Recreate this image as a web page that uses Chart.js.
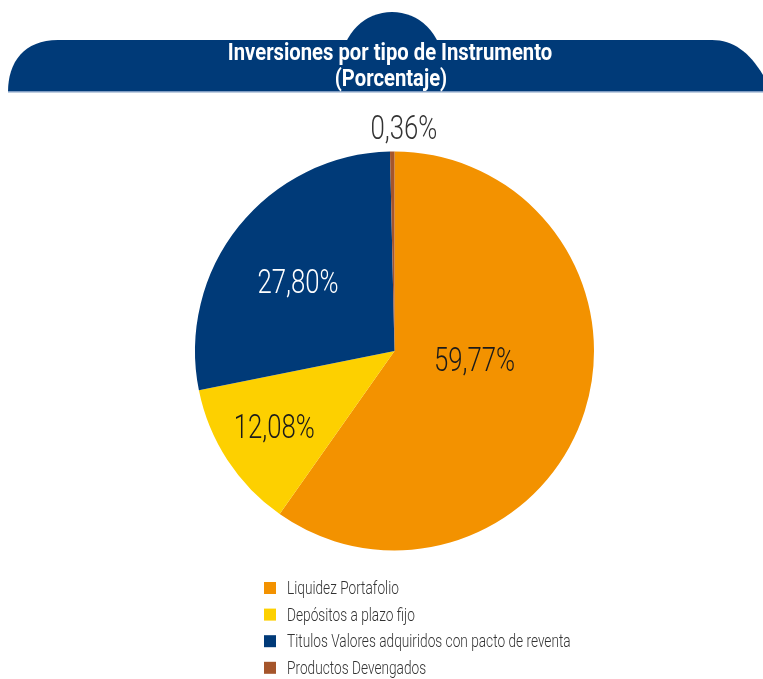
<!DOCTYPE html>
<html>
<head>
<meta charset="utf-8">
<script src="https://cdn.jsdelivr.net/npm/chart.js@4.4.1/dist/chart.umd.min.js"></script>
<style>
  html, body { margin: 0; padding: 0; background: #fff; overflow: hidden; }
  #wrap { position: relative; width: 763px; height: 679px; }
</style>
</head>
<body>
<div id="wrap"><canvas id="pieChart" width="763" height="679"></canvas></div>
<script>
const categories = [
    "Liquidez Portafolio",
    "Depósitos a plazo fijo",
    "Titulos Valores adquiridos con pacto de reventa",
    "Productos Devengados"
];
const shares = [59.77, 12.08, 27.80, 0.36];
const sliceColors = ["#F39200", "#FDD000", "#003A78", "#A5552B"];
const titleLines = ["Inversiones por tipo de Instrumento", "(Porcentaje)"];

const NAVY = "#003A78";

/* =========================
   TOOL: CONDENSED TEXT
========================= */
function drawCondensed(ctx, text, x, y, font, color, sx, align) {
    ctx.save();
    ctx.font = font;
    ctx.fillStyle = color;
    ctx.textBaseline = "alphabetic";
    ctx.textAlign = "left";
    const w = ctx.measureText(text).width * sx;
    let left = x;
    if (align === "center") left = x - w / 2;
    ctx.translate(left, y);
    ctx.scale(sx, 1);
    ctx.fillText(text, 0, 0);
    ctx.restore();
}

function pct(v) {
    return v.toFixed(2).replace(".", ",") + "%";
}

/* =========================
   HEADER BANNER
========================= */
const bannerPlugin = {
    id: "banner",
    beforeDraw(chart) {
        const ctx = chart.ctx;
        ctx.save();
        ctx.fillStyle = NAVY;

        // round tab on top, cut at the strip's bottom edge
        ctx.save();
        ctx.beginPath();
        ctx.rect(0, 0, chart.width, 91);
        ctx.clip();
        ctx.beginPath();
        ctx.arc(392, 62, 50, 0, Math.PI * 2);
        ctx.fill();
        ctx.restore();

        // main strip
        ctx.beginPath();
        ctx.moveTo(8, 92);
        ctx.bezierCurveTo(8, 62, 24, 40, 58, 40);
        ctx.lineTo(712, 40);
        ctx.bezierCurveTo(738, 40, 756, 58, 772, 92);
        ctx.closePath();
        ctx.fill();

        ctx.fillStyle = "#7f9cc2";
        ctx.fillRect(8, 91, 755, 1.5);

        drawCondensed(ctx, titleLines[0], 390, 60, "700 23px Roboto", "#fff", 0.88, "center");
        drawCondensed(ctx, titleLines[1], 391, 86, "700 23px Roboto", "#fff", 0.88, "center");
        ctx.restore();
    }
};

/* =========================
   SLICE LABELS
========================= */
const sliceLabelPlugin = {
    id: "sliceLabels",
    afterDatasetsDraw(chart, args, opts) {
        const ctx = chart.ctx;
        const meta = chart.getDatasetMeta(0);
        meta.data.forEach((arc, i) => {
            const p = arc.getProps(["x", "y", "startAngle", "endAngle", "outerRadius"], true);
            const mid = (p.startAngle + p.endAngle) / 2;
            const r = p.outerRadius * opts.radius[i];
            const x = p.x + Math.cos(mid) * r + opts.shiftX[i];
            const y = p.y + Math.sin(mid) * r + 12 + opts.shiftY[i];
            const text = pct(chart.data.datasets[0].data[i]);
            drawCondensed(ctx, text, x, y, "300 33px Roboto", opts.colors[i], 0.78, "center");
        });
    }
};

/* =========================
   LEGEND
========================= */
const legendPlugin = {
    id: "sideLegend",
    afterDraw(chart, args, opts) {
        const ctx = chart.ctx;
        const ds = chart.data.datasets[0];
        chart.data.labels.forEach((label, i) => {
            const cy = opts.top + i * opts.step;
            ctx.fillStyle = ds.backgroundColor[i];
            ctx.fillRect(opts.left, cy - 6, 12, 12);
            drawCondensed(ctx, label, opts.left + 23, cy + 6, "300 18px Roboto", "#333", 0.76, "left");
        });
    }
};

/* =========================
   PIE CHART
========================= */
function renderPie() {
    const ctx = document.getElementById("pieChart").getContext("2d");
    new Chart(ctx, {
        type: "pie",
        data: {
            labels: categories,
            datasets: [{
                data: shares,
                backgroundColor: sliceColors,
                borderWidth: 0
            }]
        },
        options: {
            responsive: false,
            animation: false,
            rotation: 0,
            layout: { padding: { left: 195, right: 169, top: 151, bottom: 128 } },
            plugins: {
                legend: { display: false },
                tooltip: { enabled: false },
                sliceLabels: {
                    radius: [0.40, 0.72, 0.60, 1.12],
                    shiftX: [4, 0, -3, 12],
                    shiftY: [-16, -3, 5, -1],
                    colors: ["#1a1a1a", "#1a1a1a", "#ffffff", "#333333"]
                },
                sideLegend: { left: 264, top: 588, step: 26.6 }
            }
        },
        plugins: [bannerPlugin, sliceLabelPlugin, legendPlugin]
    });
}

document.addEventListener("DOMContentLoaded", renderPie);
</script>
</body>
</html>
